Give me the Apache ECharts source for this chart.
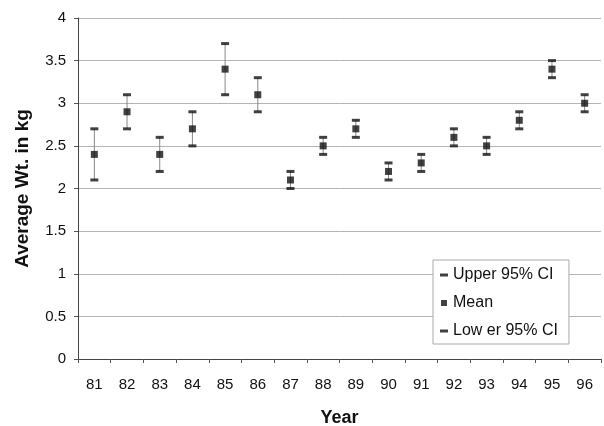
<!DOCTYPE html>
<html>
<head>
<meta charset="utf-8">
<script src="https://cdn.jsdelivr.net/npm/echarts@6/dist/echarts.min.js"></script>
<style>
  html, body { margin: 0; padding: 0; background: #fff; }
  #chart { width: 604px; height: 426px; }
</style>
</head>
<body>
<div id="chart"></div>
<script>
// 年份与置信区间数据
var years = ['81', '82', '83', '84', '85', '86', '87', '88', '89', '90', '91', '92', '93', '94', '95', '96'];
var upperCI = [2.7, 3.1, 2.6, 2.9, 3.7, 3.3, 2.2, 2.6, 2.8, 2.3, 2.4, 2.7, 2.6, 2.9, 3.5, 3.1];
var meanWt = [2.4, 2.9, 2.4, 2.7, 3.4, 3.1, 2.1, 2.5, 2.7, 2.2, 2.3, 2.6, 2.5, 2.8, 3.4, 3.0];
var lowerCI = [2.1, 2.7, 2.2, 2.5, 3.1, 2.9, 2.0, 2.4, 2.6, 2.1, 2.2, 2.5, 2.4, 2.7, 3.3, 2.9];
var yTicks = [0, 0.5, 1, 1.5, 2, 2.5, 3, 3.5, 4];

var FONT = 'Arial, "Liberation Sans", sans-serif';
// 图例用的短横线（角上的小点只是为了撑开包围盒）
var dashIcon = 'path://M0,0h0.01v0.01h-0.01z M0,2.5h8v3h-8z M7.99,7.99h0.01v0.01h-0.01z';
var squareIcon = 'path://M0,0h0.01v0.01h-0.01z M1,1h6v6h-6z M7.99,7.99h0.01v0.01h-0.01z';

var whiskerData = years.map(function (y, i) {
    return [i, lowerCI[i], upperCI[i]];
});

var chart = echarts.init(document.getElementById('chart'), null, { renderer: 'canvas' });
chart.setOption({
    animation: false,
    backgroundColor: '#fff',
    textStyle: { fontFamily: FONT, color: '#111' },
    grid: { left: 78, right: 3, top: 18, bottom: 67, outerBoundsMode: 'none', containLabel: false },
    legend: {
        orient: 'vertical',
        left: 433,
        top: 260,
        padding: [7, 11, 5, 7],
        itemGap: 12,
        itemWidth: 8,
        itemHeight: 8,
        borderColor: '#aaa',
        borderWidth: 1,
        backgroundColor: '#fff',
        textStyle: { fontFamily: FONT, fontSize: 16, color: '#111' },
        data: [
            { name: 'Upper 95% CI', icon: dashIcon },
            { name: 'Mean', icon: squareIcon },
            { name: 'Low er 95% CI', icon: dashIcon }
        ]
    },
    xAxis: {
        type: 'category',
        data: years,
        boundaryGap: true,
        name: 'Year',
        nameLocation: 'middle',
        nameGap: 50,
        nameTextStyle: { fontFamily: FONT, fontSize: 18, fontWeight: 'bold', color: '#111' },
        axisLine: { lineStyle: { color: '#444', width: 1 } },
        axisTick: { show: true, length: 4, lineStyle: { color: '#555' } },
        axisLabel: { fontFamily: FONT, fontSize: 15, color: '#111', margin: 18 },
        splitLine: { show: false }
    },
    yAxis: {
        type: 'value',
        min: yTicks[0],
        max: yTicks[yTicks.length - 1],
        interval: 0.5,
        name: 'Average Wt. in kg',
        nameLocation: 'middle',
        nameRotate: 90,
        nameGap: 46,
        nameTextStyle: { fontFamily: FONT, fontSize: 19, fontWeight: 'bold', color: '#111' },
        axisLine: { show: true, lineStyle: { color: '#444', width: 1 } },
        axisTick: { show: true, length: 4, lineStyle: { color: '#555' } },
        axisLabel: { fontFamily: FONT, fontSize: 15, color: '#111', margin: 12 },
        splitLine: { show: true, lineStyle: { color: '#b4b4b4', width: 1 } }
    },
    series: [
        {
            name: 'whisker',
            type: 'custom',
            data: whiskerData,
            z: 1,
            renderItem: function (params, api) {
                var p1 = api.coord([api.value(0), api.value(1)]);
                var p2 = api.coord([api.value(0), api.value(2)]);
                return {
                    type: 'line',
                    shape: { x1: p1[0], y1: p1[1], x2: p2[0], y2: p2[1] },
                    style: { stroke: '#888', lineWidth: 1 }
                };
            }
        },
        {
            name: 'Upper 95% CI',
            type: 'scatter',
            data: upperCI,
            symbol: 'rect',
            symbolSize: [8, 3],
            itemStyle: { color: '#111' },
            z: 3
        },
        {
            name: 'Mean',
            type: 'scatter',
            data: meanWt,
            symbol: 'rect',
            symbolSize: [7, 7],
            itemStyle: { color: '#111' },
            z: 3
        },
        {
            name: 'Low er 95% CI',
            type: 'scatter',
            data: lowerCI,
            symbol: 'rect',
            symbolSize: [8, 3],
            itemStyle: { color: '#111' },
            z: 3
        }
    ]
});
</script>
</body>
</html>
